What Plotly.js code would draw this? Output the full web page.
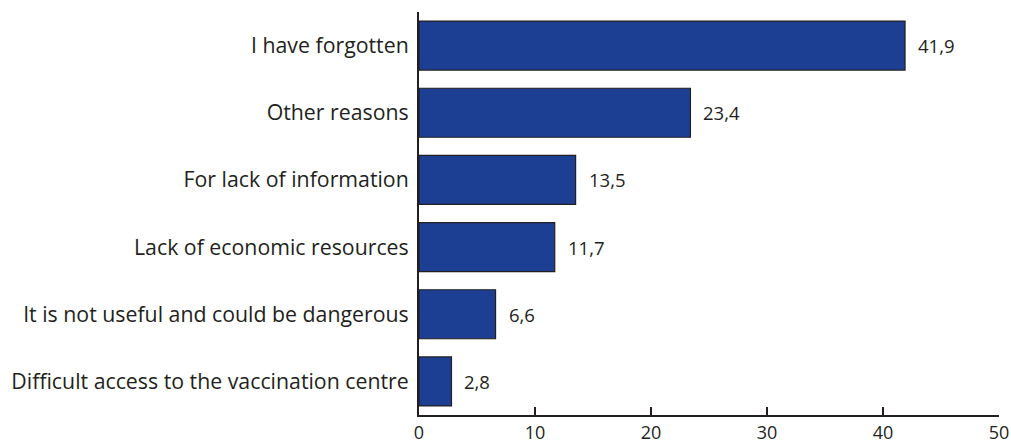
<!DOCTYPE html>
<html><head><meta charset="utf-8">
<script src="https://cdn.plot.ly/plotly-3.0.1.min.js"></script>
<style>html,body{margin:0;padding:0;background:#fff}#chart{width:1011px;height:443px}</style>
</head><body><div id="chart"></div>
<script>
const categories = [
  "Difficult access to the vaccination centre",
  "It is not useful and could be dangerous",
  "Lack of economic resources",
  "For lack of information",
  "Other reasons",
  "I have forgotten"
];
const values = [2.8, 6.6, 11.7, 13.5, 23.4, 41.9];
const tickVals = [0, 10, 20, 30, 40, 50];

const FONT = '"Open Sans", "Noto Sans", sans-serif';
const labels = values.map(v => v.toFixed(1).replace('.', ','));

const trace = {
  type: 'bar', orientation: 'h',
  y: categories, x: values,
  marker: {color: '#1c3f94', line: {color: '#231f20', width: 1.2}},
  width: 0.73,
  hoverinfo: 'none'
};

const annotations = values.map((v, i) => ({
  x: v, y: categories[i], xref: 'x', yref: 'y',
  text: labels[i], showarrow: false, xanchor: 'left', xshift: 11,
  font: {family: FONT, size: 18.5, color: '#231f20'}
}));

const layout = {
  width: 1011, height: 443,
  margin: {l: 419, r: 12, t: 12, b: 28},
  paper_bgcolor: '#fff', plot_bgcolor: '#fff',
  showlegend: false,
  xaxis: {
    range: [0, 50], tickvals: tickVals, ticktext: tickVals.map(String),
    ticks: 'inside', ticklen: 8, tickwidth: 1.5, tickcolor: '#231f20',
    showline: true, linecolor: '#231f20', linewidth: 2,
    showgrid: false, zeroline: false, ticklabelstandoff: 0,
    tickfont: {family: FONT, size: 18, color: '#231f20'}
  },
  yaxis: {
    range: [-0.5, 5.5], showline: true, linecolor: '#231f20', linewidth: 2,
    ticks: '', showgrid: false, zeroline: false, ticklabelstandoff: 4,
    tickfont: {family: FONT, size: 21.3, color: '#231f20'}
  },
  annotations: annotations
};

Plotly.newPlot('chart', [trace], layout, {displayModeBar: false, staticPlot: true});
</script></body></html>
